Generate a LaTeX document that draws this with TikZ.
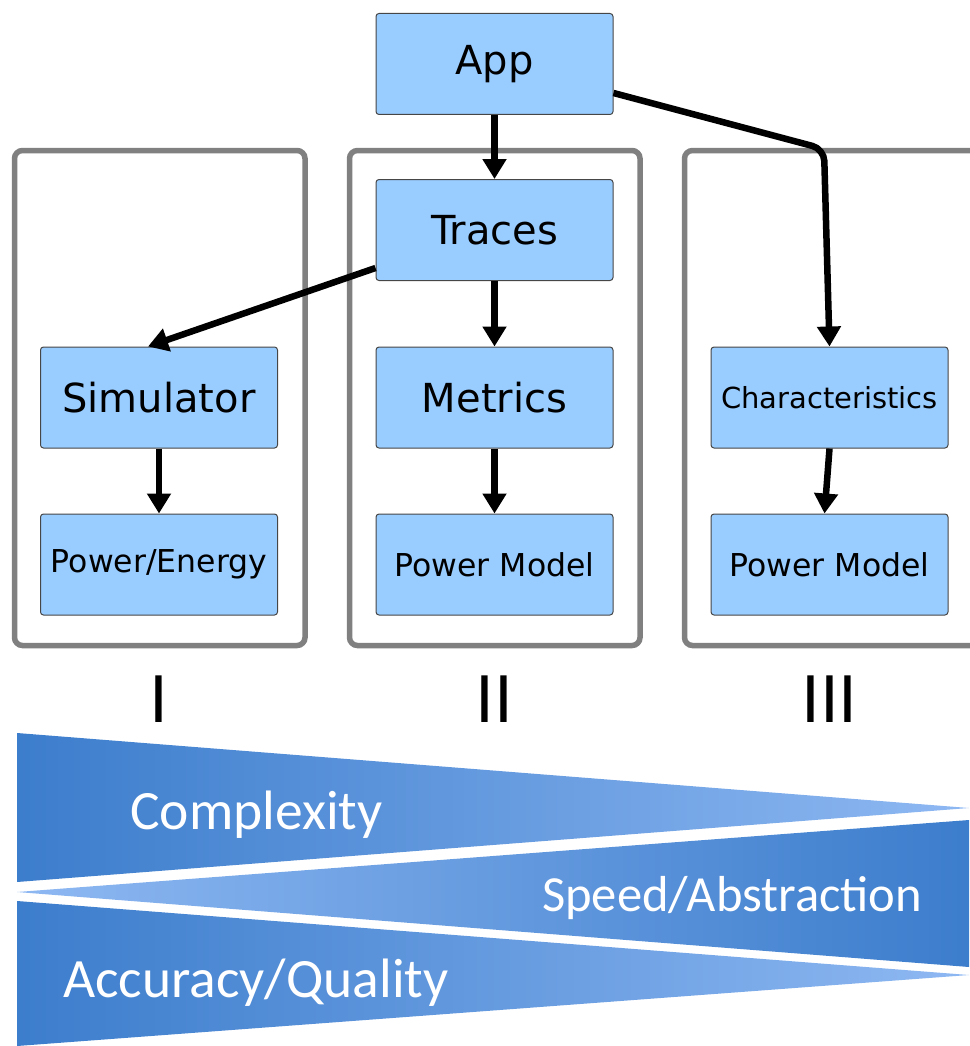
\documentclass[tikz,border=0pt]{standalone}
\usepackage{fontspec}
\setmainfont{DejaVu Sans}
\newfontfamily\barfont{Carlito}
\usetikzlibrary{arrows.meta}
\definecolor{boxblue}{RGB}{153,204,255}
\definecolor{boxedge}{RGB}{70,70,70}
\definecolor{framegray}{RGB}{128,128,128}
\definecolor{tridark}{RGB}{60,125,204}
\definecolor{trilight}{RGB}{142,184,242}
\tikzset{
  blockbox/.style={draw=boxedge, fill=boxblue, line width=1pt, rounded corners=3pt,
    minimum width=237pt, minimum height=101pt, inner sep=0pt, align=center},
  bigtext/.style={font=\fontsize{40}{44}\selectfont},
  midtext/.style={font=\fontsize{31.5}{36}\selectfont},
  smalltext/.style={font=\fontsize{29}{33}\selectfont},
  groupframe/.style={draw=framegray, line width=5.5pt, rounded corners=8pt},
  flow/.style={draw=black, line width=6.5pt, -{Triangle[length=20pt,width=23pt]}},
  numeral/.style={font=\fontsize{64}{70}\selectfont, anchor=base},
  bartext/.style={text=white, anchor=base west, inner sep=0pt}
}
\begin{document}
\begin{tikzpicture}[x=1pt, y=-1pt]
\useasboundingbox (0,0) rectangle (969,1046);

% group frames
\draw[groupframe] (14.5,150.5) rectangle (305,645.5);
\draw[groupframe] (349.5,150.5) rectangle (640,645.5);
\draw[groupframe] (684.5,150.5) rectangle (985,645.5);

% blocks
\node[blockbox, bigtext] (app) at (494.5,64) {App};
\node[blockbox, bigtext] (traces) at (494.5,230) {Traces};
\node[blockbox, bigtext] (metrics) at (494.5,397.5) {Metrics};
\node[blockbox, midtext] (pm2) at (494.5,564.5) {Power Model};
\node[blockbox, bigtext] (sim) at (159,397.5) {Simulator};
\node[blockbox, midtext] (pe) at (159,564.5) {Power/Energy};
\node[blockbox, smalltext] (char) at (829.5,397.5) {Characteristics};
\node[blockbox, midtext] (pm3) at (829.5,564.5) {Power Model};

% connectors
\draw[flow] (app.south) -- (traces.north);
\draw[flow] (traces.south) -- (metrics.north);
\draw[flow] (metrics.south) -- (pm2.north);
\draw[flow] (sim.south) -- (pe.north);
\draw[flow] (char.south) -- ([xshift=-5pt]pm3.north);
\draw[flow] ([yshift=-38pt]traces.west) -- ([xshift=-11pt]sim.north);
\coordinate (bend) at (824,149);
\draw[flow, rounded corners=12pt] ([yshift=-29pt]app.east) -- (bend) -- (char.north);

% numerals
\node[numeral] (n1) at (159,722) {I};
\node[numeral] (n2) at (494.5,722) {II};
\node[numeral] (n3) at (829.5,722) {III};

% wedges
\shade[left color=tridark, right color=trilight] (17,733) -- (17,882) -- (969,808) -- cycle;
\shade[left color=trilight, right color=tridark] (17,892) -- (969,820) -- (969,967) -- cycle;
\shade[left color=tridark, right color=trilight] (17,901) -- (17,1046) -- (969,975) -- cycle;

\node[bartext, font=\barfont\fontsize{55.5}{60}\selectfont] (cx) at (130,829) {Complexity};
\node[bartext, font=\barfont\fontsize{50.6}{56}\selectfont] (sp) at (542,911) {Speed/Abstraction};
\node[bartext, font=\barfont\fontsize{55.5}{60}\selectfont] (ac) at (63,997) {Accuracy/Quality};
\end{tikzpicture}
\end{document}
